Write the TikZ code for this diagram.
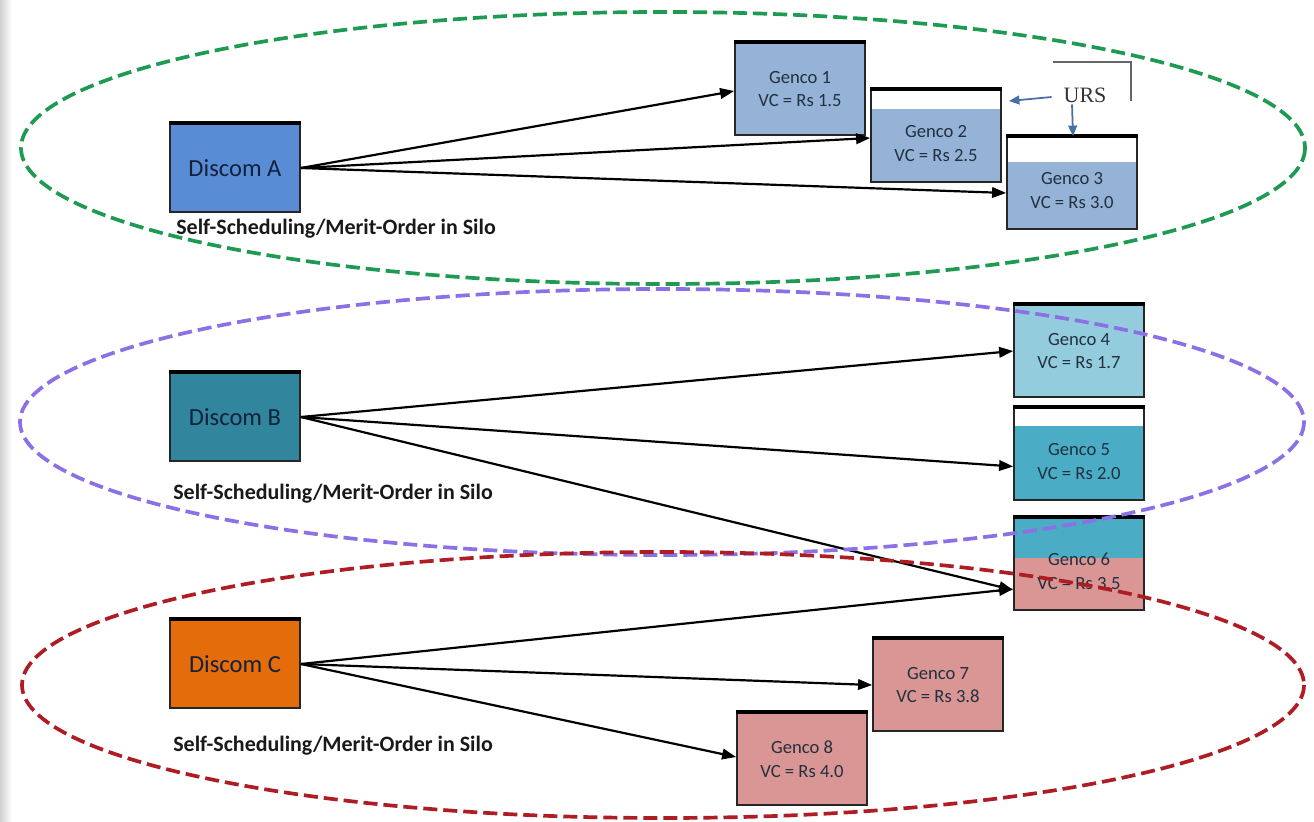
\documentclass[tikz,border=0pt]{standalone}
\usepackage{fontspec}
\setmainfont{Carlito}
\newfontfamily\urs{Liberation Serif}
\usetikzlibrary{arrows.meta,calc}
\definecolor{dA}{HTML}{588CD4}
\definecolor{dB}{HTML}{31859C}
\definecolor{dC}{HTML}{E46C0A}
\definecolor{gblue}{HTML}{95B3D7}
\definecolor{glight}{HTML}{93CDDD}
\definecolor{gteal}{HTML}{4BACC6}
\definecolor{gpink}{HTML}{D99694}
\definecolor{egreen}{HTML}{1E9A52}
\definecolor{epurple}{HTML}{8B70E6}
\definecolor{ered}{HTML}{AE1C24}
\definecolor{ursblue}{HTML}{4A6FA5}
\definecolor{gtext}{HTML}{22303F}
\definecolor{dtext}{HTML}{14213D}
\tikzset{
  discom/.style={draw=black!85, line width=1pt, minimum width=2.6cm, minimum height=1.76cm,
    font=\fontsize{14}{16}\selectfont, text=dtext, inner sep=0pt},
  genco/.style={draw=black!85, line width=1pt, minimum width=2.6cm, minimum height=1.84cm,
    font=\fontsize{10.6}{13.5}\selectfont, text=gtext, align=center, inner sep=0pt},
  whitetop/.style={path picture={\fill[white] (path picture bounding box.north west) rectangle ([yshift=-#1]path picture bounding box.east |- path picture bounding box.north);}},
  splittop/.style={path picture={\fill[gteal] (path picture bounding box.north west) rectangle ([yshift=-#1]path picture bounding box.east |- path picture bounding box.north);}},
  topline/.style={line width=2.4pt, black},
  flow/.style={line width=1.25pt, -{Triangle[length=8pt,width=6pt]}},
  ursarrow/.style={line width=1pt, ursblue, -{Triangle[length=6pt,width=5pt]}},
  silo/.style={dashed, line width=2.1pt, dash pattern=on 8pt off 3.4pt},
  caption/.style={font=\bfseries\fontsize{12.5}{14}\selectfont, text=black!90, anchor=west, inner sep=0pt},
}
\begin{document}
\begin{tikzpicture}[x=0.02cm, y=-0.02cm]
\useasboundingbox (0,0) rectangle (1314,821);
\shade[left color=black!18, right color=white] (0,0) rectangle (12,821);

% Discoms
\node[discom, fill=dA] (da) at (235,168) {Discom A};
\node[discom, fill=dB] (db) at (235,417) {Discom B};
\node[discom, fill=dC] (dc) at (235,664) {Discom C};

% Gencos
\node[genco, fill=gblue] (g1) at (800,89) {Genco 1\\VC = Rs 1.5};
\node[genco, fill=gblue, whitetop=0.38cm] (g2) at (936,136) {\\[2pt]Genco 2\\VC = Rs 2.5};
\node[genco, fill=gblue, whitetop=0.5cm] (g3) at (1072,183) {\\[2pt]Genco 3\\VC = Rs 3.0};
\node[genco, fill=glight] (g4) at (1079,351) {Genco 4\\VC = Rs 1.7};
\node[genco, fill=gteal, whitetop=0.36cm] (g5) at (1079,454) {\\[2pt]Genco 5\\VC = Rs 2.0};
\node[genco, fill=gpink, splittop=0.8cm] (g6) at (1079,564) {\\[2pt]Genco 6\\VC = Rs 3.5};
\node[genco, fill=gpink] (g7) at (938,685) {Genco 7\\VC = Rs 3.8};
\node[genco, fill=gpink] (g8) at (802,759) {Genco 8\\VC = Rs 4.0};

\foreach \n in {da,db,dc,g1,g2,g3,g4,g5,g6,g7,g8}
  \draw[topline] (\n.north west) -- (\n.north east);

% Captions
\node[caption] (ca) at (176,229) {Self-Scheduling/Merit-Order in Silo};
\node[caption] (cb) at (173,494) {Self-Scheduling/Merit-Order in Silo};
\node[caption] (cc) at (173,746) {Self-Scheduling/Merit-Order in Silo};

% Flows
\draw[flow] (da.east) -- ([yshift=-0.04cm]g1.west);
\draw[flow] (da.east) -- ([yshift=-0.04cm]g2.west);
\draw[flow] (da.east) -- ([yshift=-0.2cm]g3.west);
\draw[flow] (db.east) -- (g4.west);
\draw[flow] (db.east) -- ([yshift=-0.25cm]g5.west);
\draw[flow] (db.east) -- ([yshift=-0.52cm]g6.west);
\draw[flow] (dc.east) -- ([yshift=-0.5cm]g6.west);
\draw[flow] (dc.east) -- (g7.west);
\draw[flow] (dc.east) -- ([yshift=0.04cm]g8.west);

% URS
\node[font=\urs\fontsize{12.5}{14}\selectfont, text=black!80, inner sep=1pt] (ursn) at (1085,95) {URS};
\coordinate (b1) at (1053,62);
\coordinate (b2) at (1131,62);
\coordinate (b3) at (1131,101);
\draw[black!60, line width=0.6pt] (b1) -- (b2) -- (b3);
\draw[ursarrow] ([xshift=-0.2cm,yshift=-0.04cm]ursn.west) -- ([xshift=0.14cm,yshift=0.7cm]g2.east);
\draw[ursarrow] ([xshift=-0.26cm]ursn.south) -- ([xshift=0.02cm]g3.north);

% Silo ellipses
\draw[silo, egreen] (663,148) ellipse [x radius=642, y radius=136];
\draw[silo, epurple] (662,422) ellipse [x radius=642, y radius=133];
\draw[silo, ered] (663,685) ellipse [x radius=641, y radius=133];
\end{tikzpicture}
\end{document}
